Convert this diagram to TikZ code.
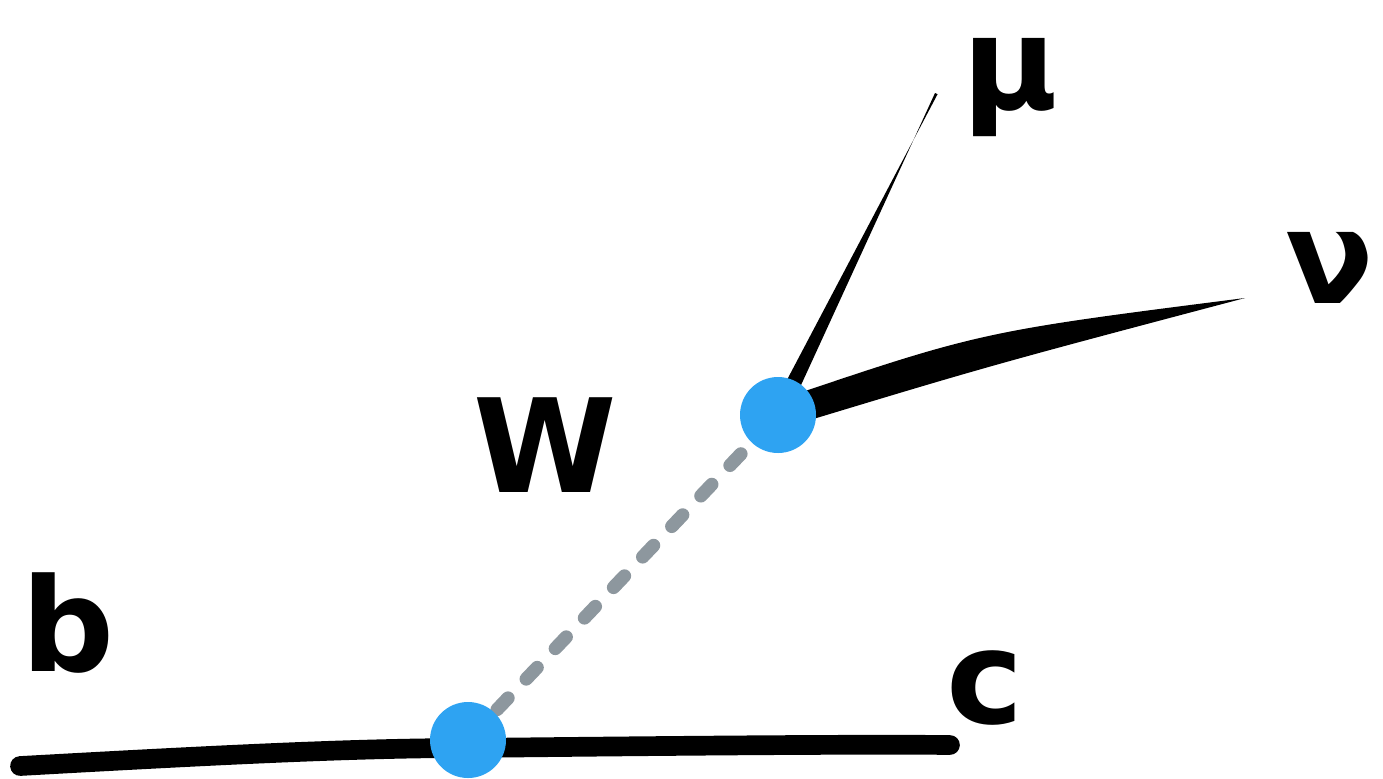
\documentclass[tikz,border=0pt]{standalone}
\usepackage{fontspec}
\usepackage{tikz}
\usetikzlibrary{calc,backgrounds}
\newfontfamily\handfont{DejaVu Sans}
\definecolor{dotblue}{HTML}{2EA3F2}
\definecolor{wgrey}{HTML}{8D979E}
\tikzset{
  vtx/.style={circle,fill=dotblue,minimum size=0.76cm,inner sep=0pt},
  lbl/.style={font=\handfont\bfseries\fontsize{37}{37}\selectfont,inner sep=0pt},
  quark/.style={line width=5.6pt,line cap=round,color=black},
  wline/.style={line width=3.8pt,color=wgrey,line cap=round,dash pattern=on 4.5pt off 7.5pt},
}

\begin{document}
\begin{tikzpicture}[
  lep/.style={fill=black}]
  \useasboundingbox (0,0) rectangle (13.83,7.78);
  % vertices
  \node[vtx] (v1) at (4.68,0.38) {};
  \node[vtx] (v2) at (7.78,3.63) {};
  % free ends
  \coordinate (bq) at (0.20,0.12);
  \coordinate (mq) at (4.68,0.30);
  \coordinate (cq) at (9.50,0.33);
  \coordinate (mu) at (9.35,6.85);
  \coordinate (nu) at (12.45,4.80);
  % labels
  \node[lbl] (lb) at (0.68,1.55) {b};
  \node[lbl] (lc) at (9.85,0.90) {c};
  \node[lbl] (lw) at (5.45,3.33) {W};
  \node[lbl] (lmu) at (10.10,6.90) {μ};
  \node[lbl] (lnu) at (13.30,5.10) {ν};
  \begin{scope}[on background layer]
    \draw[quark] (bq) .. controls (2.0,0.22) and (3.5,0.30) .. (mq) .. controls (6.5,0.32) and (8.5,0.34) .. (cq);
    \draw[wline] (v1.center) -- (v2.center);
    \fill[lep] ($(v2.center)!2.4pt!90:(mu)$) -- ($(mu)!0.8pt!90:(v2.center)$) -- (mu) -- ($(v2.center)!-2.4pt!90:(mu)$) -- cycle;
    \fill[lep] ($(v2.center)!4pt!90:(nu)$) .. controls ($(v2.center)!0.45!(nu)!9pt!90:(nu)$) .. (nu)
      .. controls ($(v2.center)!0.45!(nu)!-1pt!90:(nu)$) .. ($(v2.center)!-4pt!90:(nu)$) -- cycle;
  \end{scope}
\end{tikzpicture}
\end{document}
